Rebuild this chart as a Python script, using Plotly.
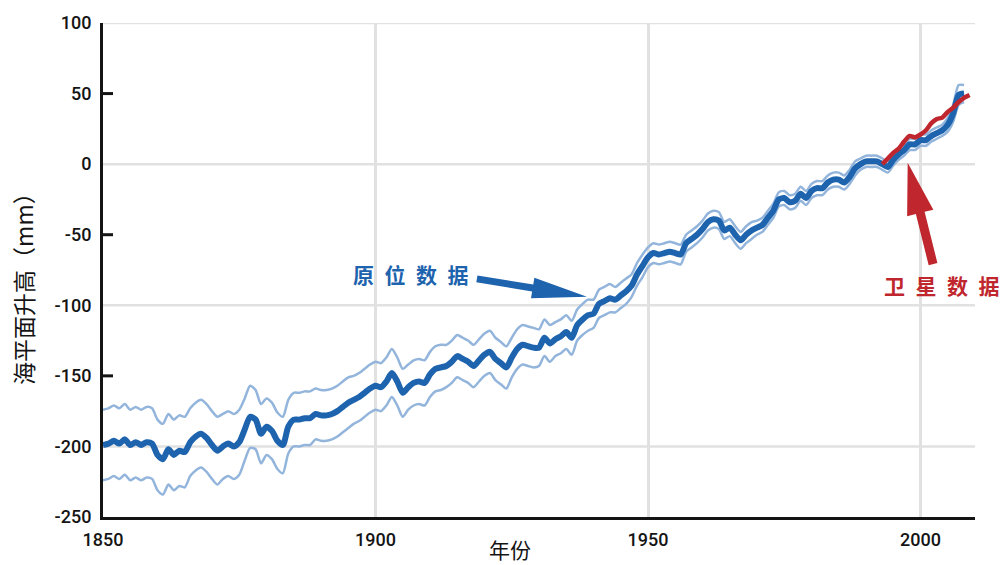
import math
import plotly.graph_objects as go

# Global mean sea level reconstruction (tide gauges), mm relative to 1990
years = list(range(1850, 2009))
gauge_mm = [
    -199, -198, -196, -198, -195, -199, -197, -199, -197, -198,  # 1850s
    -206, -209, -202, -206, -203, -204, -197, -193, -191, -194,  # 1860s
    -199, -203, -200, -198, -200, -197, -188, -179, -181, -191,  # 1870s
    -186, -189, -196, -199, -186, -181, -181, -180, -180, -177,  # 1880s
    -178, -178, -177, -175, -172, -169, -167, -165, -162, -159,  # 1890s
    -157, -158, -154, -148, -154, -162, -158, -155, -154, -155,  # 1900s
    -149, -145, -144, -143, -140, -136, -138, -140, -143, -139,  # 1910s
    -135, -133, -138, -141, -144, -137, -131, -128, -129, -130,  # 1920s
    -130, -123, -127, -124, -122, -119, -123, -114, -110, -107,  # 1930s
    -106, -99, -97, -95, -96, -93, -90, -86, -78, -72,           # 1940s
    -66, -63, -64, -63, -62, -63, -64, -56, -53, -50,            # 1950s
    -46, -41, -39, -40, -47, -45, -50, -54, -50, -47,            # 1960s
    -45, -43, -38, -33, -25, -24, -27, -26, -21, -24,            # 1970s
    -19, -17, -17, -13, -11, -11, -13, -9, -3, 0,                # 1980s
    2, 2, 2, 0, -2, 3, 7, 10, 14, 14,                            # 1990s
    17, 17, 20, 22, 24, 28, 36, 49, 50,                          # 2000s
]
# One-sigma uncertainty of the reconstruction, mm
gauge_err = [
    25, 25, 25, 25, 25, 25, 25, 25, 25, 25,
    25, 25, 25, 25, 25, 25, 24, 24, 24, 24,
    24, 24, 23, 23, 23, 23, 22, 22, 21, 21,
    20, 20, 20, 20, 19, 19, 19, 19, 19, 18,
    18, 18, 18, 18, 18, 18, 17, 17, 17, 17,
    17, 17, 17, 17, 17, 17, 16, 16, 16, 16,
    16, 16, 16, 15, 15, 15, 15, 15, 15, 15,
    15, 15, 15, 15, 15, 14, 14, 14, 14, 14,
    13, 13, 13, 12, 12, 12, 12, 11, 11, 11,
    10, 10, 10, 10, 9, 9, 9, 8, 8, 8,
    7, 7, 7, 7, 7, 7, 7, 6, 6, 6,
    6, 6, 6, 6, 6, 6, 6, 6, 6, 6,
    5, 5, 5, 5, 5, 5, 5, 5, 5, 5,
    5, 5, 5, 5, 5, 5, 5, 5, 5, 4,
    4, 4, 4, 4, 4, 4, 4, 4, 4, 4,
    4, 4, 4, 4, 4, 5, 6, 7, 6,
]
gauge_upper = [m + e for m, e in zip(gauge_mm, gauge_err)]
gauge_lower = [m - e for m, e in zip(gauge_mm, gauge_err)]

# Satellite altimetry, mm
sat_years = list(range(1993, 2010))
sat_mm = [0, 4, 8, 11, 16, 20, 19, 21, 24, 29, 32, 33, 37, 40, 44, 47, 49]

x_ticks = [1850, 1900, 1950, 2000]
y_ticks = [-250, -200, -150, -100, -50, 0, 50, 100]
y_grid = [100, 0, -100, -200]
y_minor = [50, -50, -150]

# Figure geometry
W, H = 1003, 565
ML, MR, MT, MB = 103, 28, 19, 48
X0, X1 = 1850, 2010
Y0, Y1 = -250, 100
PW, PH = W - ML - MR, H - MT - MB

BLUE = "#1d63ae"
BAND = "#93b5dc"
RED = "#c0262d"
INK = "#141414"
GRID = "#e1e1e1"
TICK_FONT = dict(family="Roboto", size=18, color=INK, weight=500)


def to_px(xv, yv):
    return ML + (xv - X0) * PW / (X1 - X0), MT + (Y1 - yv) * PH / (Y1 - Y0)


def to_data(px, py):
    return X0 + (px - ML) * (X1 - X0) / PW, Y1 - (py - MT) * (Y1 - Y0) / PH


def arrow_path(tail, tip, shaft_w, head_len, head_w):
    tx, ty = to_px(*tail)
    hx, hy = to_px(*tip)
    dx, dy = hx - tx, hy - ty
    n = math.hypot(dx, dy)
    ux, uy = dx / n, dy / n
    nx, ny = -uy, ux
    bx, by = hx - ux * head_len, hy - uy * head_len
    pts = [
        (tx + nx * shaft_w / 2, ty + ny * shaft_w / 2),
        (bx + nx * shaft_w / 2, by + ny * shaft_w / 2),
        (bx + nx * head_w / 2, by + ny * head_w / 2),
        (hx, hy),
        (bx - nx * head_w / 2, by - ny * head_w / 2),
        (bx - nx * shaft_w / 2, by - ny * shaft_w / 2),
        (tx - nx * shaft_w / 2, ty - ny * shaft_w / 2),
    ]
    d = []
    for i, (px, py) in enumerate(pts):
        xv, yv = to_data(px, py)
        d.append(("M" if i == 0 else "L") + f"{xv:.4f},{yv:.4f}")
    return " ".join(d) + " Z"


fig = go.Figure()
for band in (gauge_upper, gauge_lower):
    fig.add_trace(go.Scatter(
        x=years, y=band, mode="lines",
        line=dict(color=BAND, width=2.5, shape="spline", smoothing=0.7),
        hoverinfo="skip", showlegend=False,
    ))
fig.add_trace(go.Scatter(
    x=years, y=gauge_mm, mode="lines",
    line=dict(color=BLUE, width=6, shape="spline", smoothing=0.7),
    showlegend=False,
))
fig.add_trace(go.Scatter(
    x=sat_years, y=sat_mm, mode="lines",
    line=dict(color=RED, width=4.5, shape="spline", smoothing=0.6),
    showlegend=False,
))

shapes = []
for gv in y_grid:
    shapes.append(dict(type="line", xref="paper", yref="y", x0=0, x1=1, y0=gv, y1=gv,
                       line=dict(color=GRID, width=2.5), layer="below"))
for tv in y_minor:
    shapes.append(dict(type="line", xref="paper", yref="y", x0=0, x1=10 / PW, y0=tv, y1=tv,
                       line=dict(color=INK, width=3)))
# Pointer arrows for the two labels
shapes.append(dict(type="path", xref="x", yref="y",
                   path=arrow_path((1918.6, -81.3), (1938.8, -94.0), 7, 55, 21),
                   fillcolor=BLUE, line=dict(width=0)))
shapes.append(dict(type="path", xref="x", yref="y",
                   path=arrow_path((2002.3, -70.8), (1997.65, 0.9), 9, 52, 27),
                   fillcolor=RED, line=dict(width=0)))

CJK = "Noto Sans CJK SC"
SP = "\u2002"
annotations = [
    dict(text=SP.join("原位数据"), x=1906.5, y=-77.8, xref="x", yref="y", showarrow=False,
         font=dict(family=CJK, size=21, color=BLUE, weight="bold"), xanchor="center", yanchor="middle"),
    dict(text=SP.join("卫星数据"), x=2004.0, y=-85.5, xref="x", yref="y", showarrow=False,
         font=dict(family=CJK, size=21, color=RED, weight="bold"), xanchor="center", yanchor="middle"),
    dict(text="海平面升高（mm）", x=(23.5 - ML) / PW, y=(H - MB - 281.5) / PH, xref="paper", yref="paper",
         showarrow=False, textangle=-90, font=dict(family=CJK, size=23, color=INK),
         xanchor="center", yanchor="middle"),
    dict(text="年份", x=(510 - ML) / PW, y=(H - MB - 549) / PH, xref="paper", yref="paper",
         showarrow=False, font=dict(family=CJK, size=21, color=INK),
         xanchor="center", yanchor="middle", borderpad=0),
]

fig.update_layout(
    width=W, height=H,
    margin=dict(l=ML, r=MR, t=MT, b=MB),
    paper_bgcolor="white", plot_bgcolor="white",
    shapes=shapes, annotations=annotations,
    xaxis=dict(range=[X0, X1], tickvals=x_ticks, ticktext=[str(v) for v in x_ticks],
               showgrid=True, gridcolor=GRID, gridwidth=2.5, zeroline=False,
               showline=True, linecolor=INK, linewidth=3, ticks="",
               tickfont=TICK_FONT, ticklabelstandoff=4),
    yaxis=dict(range=[Y0, Y1], tickvals=y_ticks, ticktext=[str(v) for v in y_ticks],
               showgrid=False, zeroline=False,
               showline=True, linecolor=INK, linewidth=3, ticks="",
               tickfont=TICK_FONT, ticklabelstandoff=5),
)

fig.write_html("out.html")
